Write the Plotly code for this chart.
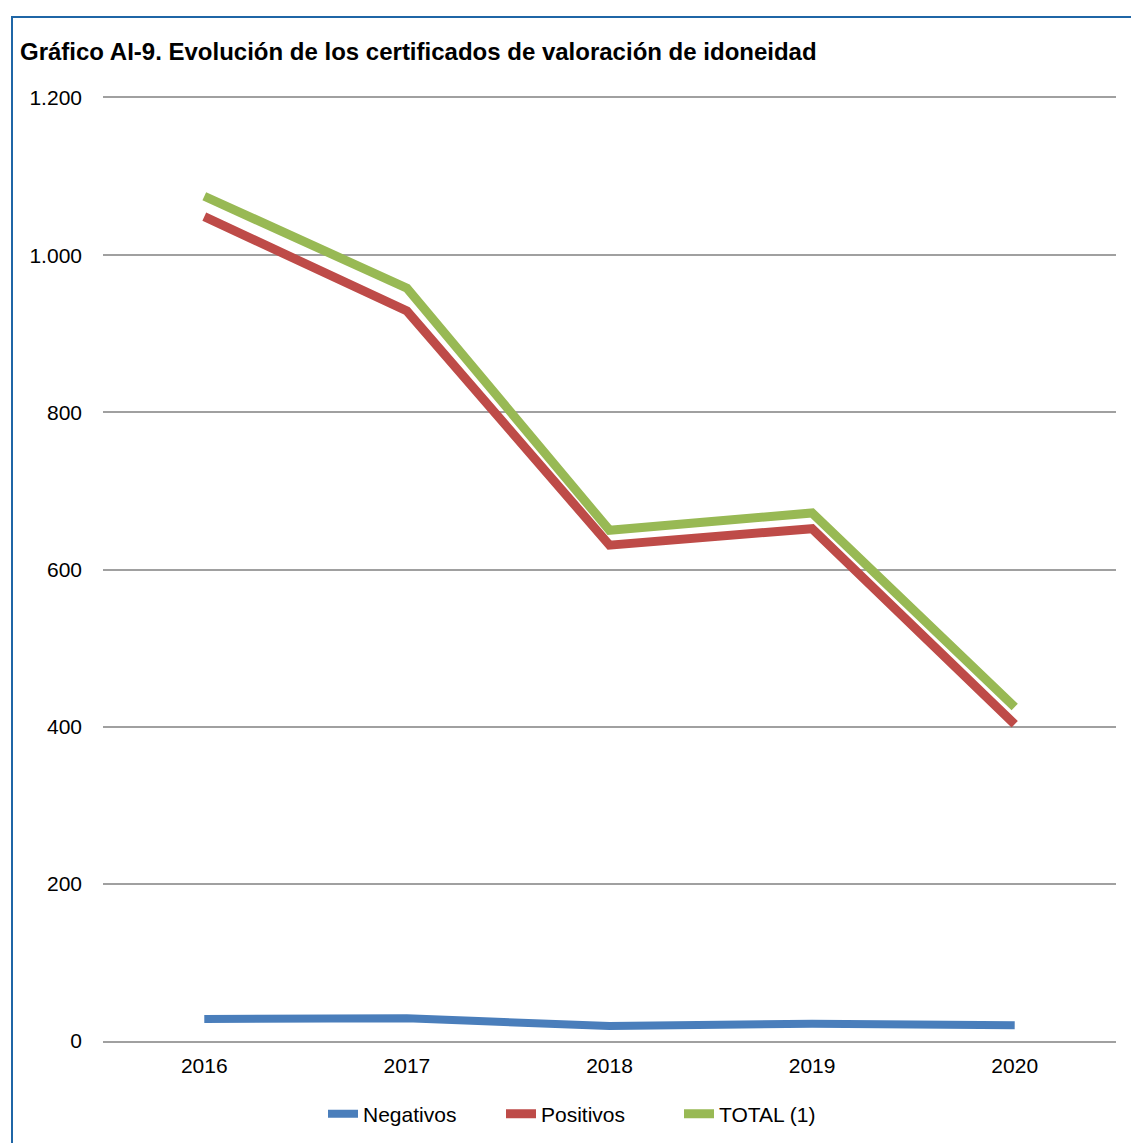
import plotly.graph_objects as go

years = ["2016", "2017", "2018", "2019", "2020"]
negativos = [28, 29, 19, 22, 20]
positivos = [1049, 929, 631, 652, 403]
total = [1075, 958, 650, 672, 425]

W, H = 1139, 1143
OFF = 8  # default page body margin
L, R, T, B = 103 - OFF, 23 + OFF, 98 - OFF, 102 + OFF
pw, ph = W - L - R, H - T - B

def px_x(x):
    return (x - OFF - L) / pw

def px_y(y):
    return (H - B - (y - OFF)) / ph

fig = go.Figure()
fig.add_trace(go.Scatter(x=years, y=negativos, mode="lines", name="Negativos",
                         line=dict(color="#4a7ebb", width=8)))
fig.add_trace(go.Scatter(x=years, y=positivos, mode="lines", name="Positivos",
                         line=dict(color="#be4b48", width=9)))
fig.add_trace(go.Scatter(x=years, y=total, mode="lines", name="TOTAL (1)",
                         line=dict(color="#98b954", width=9)))

fig.update_layout(
    width=W, height=H,
    margin=dict(l=L, r=R, t=T, b=B),
    paper_bgcolor="white", plot_bgcolor="white",
    separators=",.",
    font=dict(family="Liberation Sans, Arial, sans-serif", size=21, color="#000000"),
    title=dict(text="<b>Gráfico AI-9. Evolución de los certificados de valoración de idoneidad</b>",
               x=(20 - OFF) / W, xanchor="left", xref="container",
               y=1 - (52 - OFF) / H, yanchor="middle", yref="container",
               font=dict(size=24, color="#000000")),
    xaxis=dict(type="category", range=[-0.5, 4.5], showgrid=False,
               showline=True, mirror=True, linecolor="#a0a0a0", linewidth=1.5,
               ticks="", tickfont=dict(size=21), zeroline=False, ticklabelstandoff=5),
    yaxis=dict(range=[0, 1200], dtick=200, tickformat=",d", showgrid=True,
               gridcolor="#a0a0a0", gridwidth=1.5, zeroline=False, showline=False,
               ticks="", ticklabelstandoff=20, tickfont=dict(size=21)),
    legend=dict(orientation="h", x=px_x(590), xanchor="center",
                y=px_y(1114), yanchor="middle",
                font=dict(size=21), itemwidth=30, tracegroupgap=0,
                entrywidth=133),
    shapes=[dict(type="rect", xref="paper", yref="paper",
                 x0=px_x(12), x1=px_x(W + 30),
                 y0=px_y(H + 30), y1=px_y(17),
                 line=dict(color="#1f66a6", width=2), fillcolor="rgba(0,0,0,0)",
                 layer="below")],
)

fig.write_html("out.html")
